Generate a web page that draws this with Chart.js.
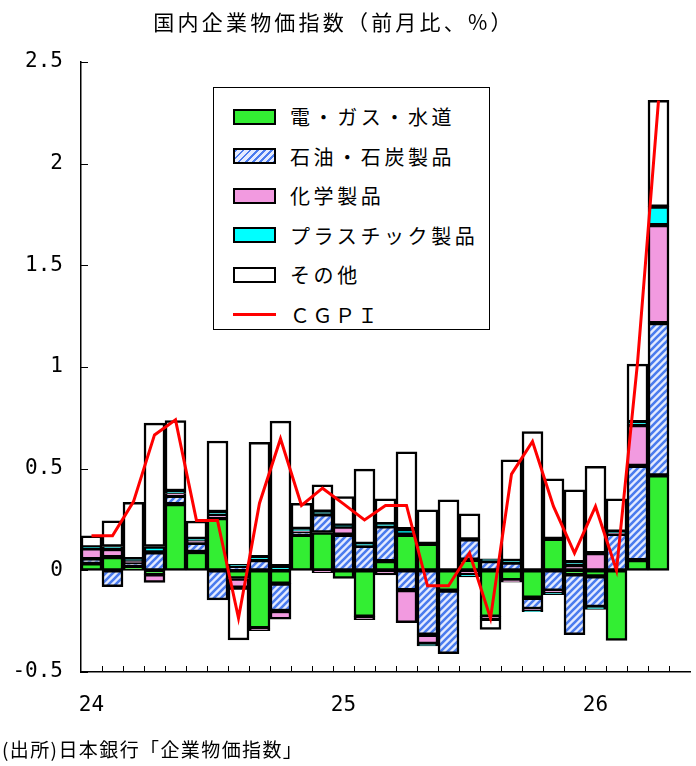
<!DOCTYPE html>
<html lang="ja">
<head>
<meta charset="utf-8">
<script src="https://cdn.jsdelivr.net/npm/chart.js@4.4.0/dist/chart.umd.min.js"></script>
<style>
  html, body { margin: 0; padding: 0; background: #fff; }
  #wrap { position: relative; width: 696px; height: 766px; font-family: "Noto Sans CJK JP", sans-serif; color: #000; }
  #chart-cgpi { position: absolute; left: 0; top: 0; }
  #title { position: absolute; top: 9px; left: 0; width: 668px; text-align: center; font-size: 21px; line-height: 24px; letter-spacing: 3.2px; }
  #source { position: absolute; left: 2px; top: 738px; font-size: 19px; line-height: 22px; letter-spacing: 1.4px; }
  #legend { position: absolute; left: 213px; top: 87px; width: 277px; height: 243px; border: 1.5px solid #000; background: #fff; box-sizing: border-box; padding-top: 9px; }
  .item { height: 39.5px; display: flex; align-items: center; font-size: 20px; letter-spacing: 3.6px; white-space: nowrap; }
  .sw { width: 43px; height: 16px; margin-left: 19px; margin-right: 14px; border: 2px solid #000; box-sizing: border-box; flex: none; }
  .ln { width: 43px; height: 3px; margin-left: 19px; margin-right: 14px; background: #ff0000; flex: none; }
</style>
</head>
<body>
<div id="wrap">
  <canvas id="chart-cgpi" width="696" height="766"></canvas>
  <div id="title">国内企業物価指数（前月比、%）</div>
  <div id="legend"></div>
  <div id="source">(出所)日本銀行「企業物価指数」</div>
</div>
<script>
// months Jan 2024 .. May 2026 (last slot left empty)
const categories = [
  "24/1", "24/2", "24/3", "24/4", "24/5", "24/6", "24/7", "24/8", "24/9", "24/10", "24/11", "24/12",
  "25/1", "25/2", "25/3", "25/4", "25/5", "25/6", "25/7", "25/8", "25/9", "25/10", "25/11", "25/12",
  "26/1", "26/2", "26/3", "26/4", "26/5",
];
const yearLabels = ["24", "25", "26"];
const yTicks = [-0.5, 0, 0.5, 1, 1.5, 2, 2.5];

const utilities = [0.035, 0.065, 0.02, -0.02, 0.326, 0.09, 0.257, -0.04, -0.285, -0.065, 0.175, 0.186,
  -0.04, -0.228, 0.045, 0.175, 0.13, -0.1, 0.052, -0.228, -0.048, -0.135, 0.155, -0.02,
  -0.03, -0.345, 0.05, 0.467, null];
const petroleum = [0.02, -0.08, 0.015, 0.088, 0.04, 0.045, -0.145, 0.02, 0.05, -0.135, 0.012, 0.09,
  0.175, 0.12, 0.172, -0.097, -0.317, -0.31, 0.1, 0.045, 0.038, -0.055, -0.1, -0.297,
  -0.15, 0.18, 0.464, 0.749, null];
const chemicals = [0.053, 0.04, 0.012, -0.04, 0.012, 0.01, 0.015, -0.045, -0.012, -0.04, 0.005, -0.012,
  0.04, -0.015, -0.022, -0.16, -0.045, 0, -0.02, -0.01, -0.01, -0.008, -0.01, 0.025,
  0.085, 0.005, 0.2, 0.482, null];
const plastics = [0.005, 0.012, 0.008, 0.029, 0.012, 0.01, 0.015, 0.01, 0.015, 0.02, 0.012, 0.012,
  0.005, 0.01, 0.01, 0.028, -0.01, 0, -0.012, 0.012, 0.008, -0.005, -0.01, 0.015,
  -0.012, 0.005, 0.015, 0.091, null];
const others = [0.057, 0.126, 0.28, 0.607, 0.347, 0.087, 0.349, -0.257, 0.564, 0.714, 0.126, 0.132,
  0.143, 0.368, 0.125, 0.38, 0.168, 0.347, 0.126, -0.052, 0.498, 0.683, 0.295, 0.356,
  0.426, 0.162, 0.285, 0.523, null];
const cgpi = [0.17, 0.17, 0.338, 0.666, 0.74, 0.245, 0.245, -0.235, 0.33, 0.647, 0.319, 0.404,
  0.327, 0.248, 0.319, 0.319, -0.076, -0.076, 0.085, -0.235, 0.473, 0.634, 0.314, 0.085,
  0.314, 0.0, 1.02, 2.31, null];

const GREEN = "#33ee33";
const PINK = "#f29ae0";
const CYAN = "#00ffff";
const RED = "#ff0000";
const HATCH_BG = "#e4ebff";
const HATCH_FG = "#4a7bee";

// diagonal hatch for 石油・石炭製品
const hatch = (() => {
  const s = 7;
  const c = document.createElement("canvas");
  c.width = s;
  c.height = s;
  const g = c.getContext("2d");
  g.fillStyle = HATCH_BG;
  g.fillRect(0, 0, s, s);
  g.strokeStyle = HATCH_FG;
  g.lineWidth = 2.6;
  g.beginPath();
  g.moveTo(-2, 2); g.lineTo(2, -2);
  g.moveTo(0, s); g.lineTo(s, 0);
  g.moveTo(s - 2, s + 2); g.lineTo(s + 2, s - 2);
  g.stroke();
  return g.createPattern(c, "repeat");
})();

const LEGEND_ITEMS = [
  { label: "電・ガス・水道", style: `background:${GREEN}` },
  { label: "石油・石炭製品", style: `background:repeating-linear-gradient(135deg, ${HATCH_FG} 0 2px, ${HATCH_BG} 2px 5px)` },
  { label: "化学製品", style: `background:${PINK}` },
  { label: "プラスチック製品", style: `background:${CYAN}` },
  { label: "その他", style: "background:#fff" },
  { label: "ＣＧＰＩ", line: true },
];
document.getElementById("legend").innerHTML = LEGEND_ITEMS.map((it) =>
  it.line
    ? `<div class="item" style="letter-spacing:2.5px"><span class="ln"></span>${it.label}</div>`
    : `<div class="item"><span class="sw" style="${it.style}"></span>${it.label}</div>`
).join("");

const barSet = (label, data, color) => ({
  type: "bar",
  label,
  data,
  backgroundColor: color,
  borderColor: "#000",
  borderWidth: 2.5,
  borderSkipped: false,
  barPercentage: 1,
  categoryPercentage: 1,
  stack: "cgpi",
  order: 1,
});

// inward tick marks on both axes
const innerTicks = {
  id: "innerTicks",
  afterDatasetsDraw(chart) {
    const { ctx, chartArea, scales } = chart;
    const x = scales.x;
    const y = scales.y;
    const w = x.width / categories.length;
    ctx.save();
    ctx.strokeStyle = "#000";
    ctx.lineWidth = 1;
    ctx.beginPath();
    for (let i = 1; i < categories.length; i++) {
      const px = Math.round(x.getPixelForValue(i) - w / 2) + 0.5;
      ctx.moveTo(px, chartArea.bottom);
      ctx.lineTo(px, chartArea.bottom - 6);
    }
    y.ticks.forEach((t) => {
      const py = Math.round(y.getPixelForValue(t.value)) + 0.5;
      ctx.moveTo(chartArea.left, py);
      ctx.lineTo(chartArea.left + 7, py);
    });
    ctx.stroke();
    ctx.restore();
  },
};

const TICK_FONT = { family: "'DejaVu Sans Mono', monospace", size: 21 };

const CONFIG = {
  data: {
    labels: categories,
    datasets: [
      {
        type: "line",
        label: "ＣＧＰＩ",
        data: cgpi,
        borderColor: RED,
        borderWidth: 3,
        pointRadius: 0,
        tension: 0,
        order: 0,
      },
      barSet("電・ガス・水道", utilities, GREEN),
      barSet("石油・石炭製品", petroleum, hatch),
      barSet("化学製品", chemicals, PINK),
      barSet("プラスチック製品", plastics, CYAN),
      barSet("その他", others, "#ffffff"),
    ],
  },
  options: {
    responsive: false,
    animation: false,
    layout: { padding: { top: 62, right: 6, left: 0, bottom: 0 } },
    plugins: {
      legend: { display: false },
      title: { display: false },
      tooltip: { enabled: false },
    },
    scales: {
      x: {
        stacked: true,
        offset: true,
        border: { display: true, color: "#000", width: 1.5 },
        grid: { display: false, drawTicks: false },
        ticks: {
          autoSkip: false,
          maxRotation: 0,
          padding: 21,
          color: "#000",
          font: TICK_FONT,
          callback: (v, i) => (i % 12 === 0 ? yearLabels[i / 12] : ""),
        },
        afterFit: (s) => {
          s.height = 94;
          s.paddingLeft = 0;
          s.paddingRight = 0;
        },
      },
      y: {
        stacked: true,
        min: yTicks[0],
        max: yTicks[yTicks.length - 1],
        border: { display: true, color: "#000", width: 1.5 },
        grid: { display: false, drawTicks: false },
        ticks: {
          stepSize: 0.5,
          padding: 18,
          color: "#000",
          font: TICK_FONT,
          callback: (v) => (Number.isInteger(v) ? String(v) : v.toFixed(1)),
        },
        afterFit: (s) => {
          s.width = 81;
          s.paddingTop = 0;
          s.paddingBottom = 0;
        },
      },
    },
  },
  plugins: [innerTicks],
};

new Chart(document.getElementById("chart-cgpi"), CONFIG);
</script>
</body>
</html>
